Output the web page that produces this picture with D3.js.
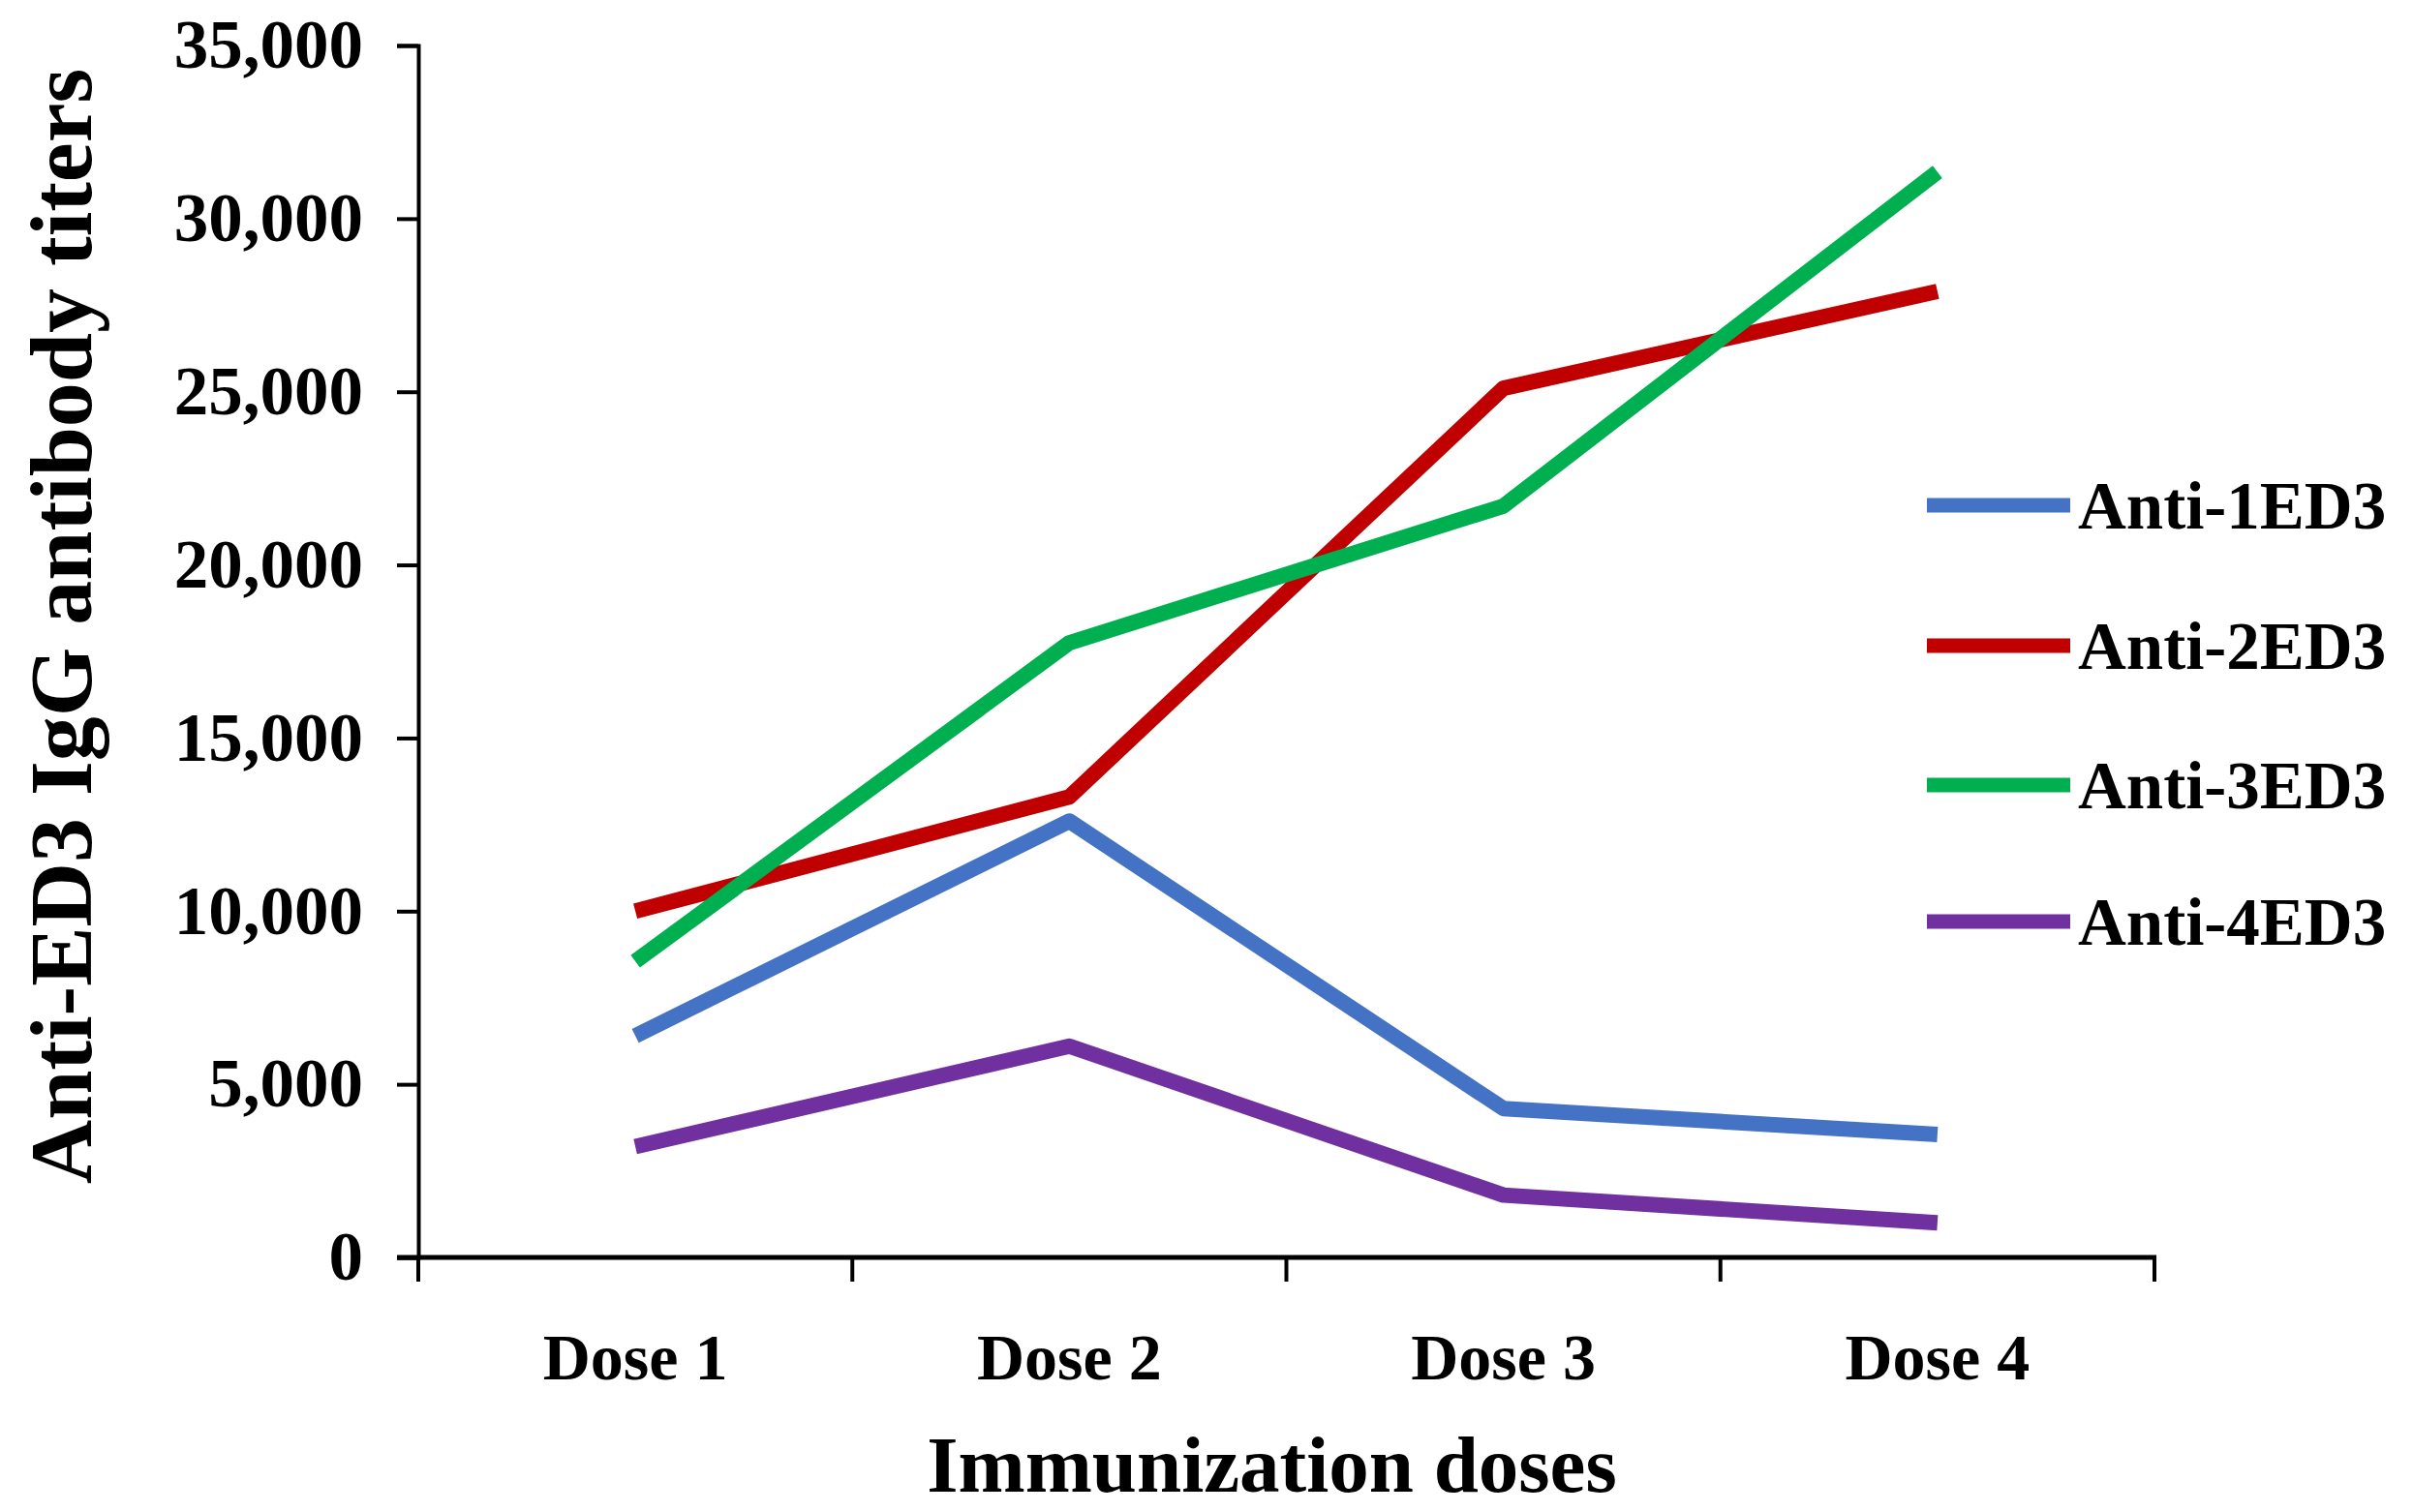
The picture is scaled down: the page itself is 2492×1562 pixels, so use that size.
<!DOCTYPE html>
<html>
<head>
<meta charset="utf-8">
<script src="https://cdn.jsdelivr.net/npm/d3@7"></script>
<style>
  html, body { margin: 0; padding: 0; background: #fff; }
  svg { display: block; }
  text { font-family: "Liberation Serif", "Times New Roman", serif; font-weight: bold; fill: #000; }
</style>
</head>
<body>
<svg id="chart" width="2492" height="1562"></svg>
<script>
const categories = ["Dose 1", "Dose 2", "Dose 3", "Dose 4"];
const seriesNames = ["Anti-1ED3", "Anti-2ED3", "Anti-3ED3", "Anti-4ED3"];
const seriesColors = ["#4472C4", "#C00000", "#00B050", "#7030A0"];
const anti1 = [6400, 12600, 4300, 3550];
const anti2 = [10000, 13300, 25100, 27900];
const anti3 = [8550, 17750, 21700, 31350];
const anti4 = [3200, 6100, 1800, 1000];
const yTicks = [0, 5000, 10000, 15000, 20000, 25000, 30000, 35000];
const xTitle = "Immunization doses";
const yTitle = "Anti-ED3 IgG antibody titers";

const seriesValues = [anti1, anti2, anti3, anti4];

(function () {
const svg = d3.select("#chart");
const mLeft = 432, mRight = 2225, mTop = 47, mBottom = 1299;

const x = d3.scaleBand().domain(categories).range([mLeft, mRight]).padding(0);
const y = d3.scaleLinear().domain([0, 35000]).range([mBottom, mTop]);

// Y axis
const yAxis = svg.append("g").attr("transform", `translate(${mLeft},0)`)
  .call(d3.axisLeft(y).tickValues(yTicks).tickSize(22).tickPadding(35)
    .tickFormat(d3.format(",")));
yAxis.select(".domain").attr("stroke", "#000").attr("stroke-width", 4);
yAxis.selectAll(".tick line").attr("stroke", "#000").attr("stroke-width", 4);
yAxis.selectAll(".tick text").style("font-size", "71px")
  .style("font-family", '"Liberation Serif", "Times New Roman", serif')
  .style("font-weight", "bold").attr("fill", "#000");

// X axis (ticks at band boundaries)
const xAxisG = svg.append("g").attr("transform", `translate(0,${mBottom})`);
xAxisG.append("line").attr("x1", mLeft - 22).attr("x2", mRight + 2).attr("y1", 0).attr("y2", 0)
  .attr("stroke", "#000").attr("stroke-width", 5);
const boundaries = categories.map(c => x(c)).concat([x(categories[categories.length - 1]) + x.bandwidth()]);
xAxisG.selectAll("line.bt").data(boundaries).enter().append("line").attr("class", "bt")
  .attr("x1", d => d).attr("x2", d => d).attr("y1", 0).attr("y2", 25)
  .attr("stroke", "#000").attr("stroke-width", 4);
xAxisG.selectAll("text.cat").data(categories).enter().append("text").attr("class", "cat")
  .attr("x", d => x(d) + x.bandwidth() / 2).attr("y", 126)
  .attr("text-anchor", "middle").style("font-size", "68px").text(d => d);

// Axis titles
svg.append("text").attr("x", (mLeft + mRight) / 2 - 15).attr("y", 1541)
  .attr("text-anchor", "middle").style("font-size", "83px").text(xTitle);
svg.append("text").attr("transform", `translate(94,${(68 + 1226) / 2}) rotate(-90)`)
  .attr("text-anchor", "middle").style("font-size", "92px").text(yTitle);

// Lines
const line = d3.line().x((d, i) => x(categories[i]) + x.bandwidth() / 2).y(d => y(d));
svg.selectAll("path.series").data(seriesValues).enter().append("path").attr("class", "series")
  .attr("d", d => line(d)).attr("fill", "none")
  .attr("stroke", (d, i) => seriesColors[i]).attr("stroke-width", 16)
  .attr("stroke-linejoin", "round").attr("stroke-linecap", "butt");

// Legend
const legendY = [522, 667, 811, 952];
const lg = svg.append("g");
seriesNames.forEach((name, i) => {
  lg.append("line").attr("x1", 1990).attr("x2", 2138).attr("y1", legendY[i]).attr("y2", legendY[i])
    .attr("stroke", seriesColors[i]).attr("stroke-width", 15).attr("stroke-linecap", "butt");
  lg.append("text").attr("x", 2146).attr("y", legendY[i]).attr("dy", "0.35em")
    .style("font-size", "69px").text(name);
});
})();
</script>
</body>
</html>
